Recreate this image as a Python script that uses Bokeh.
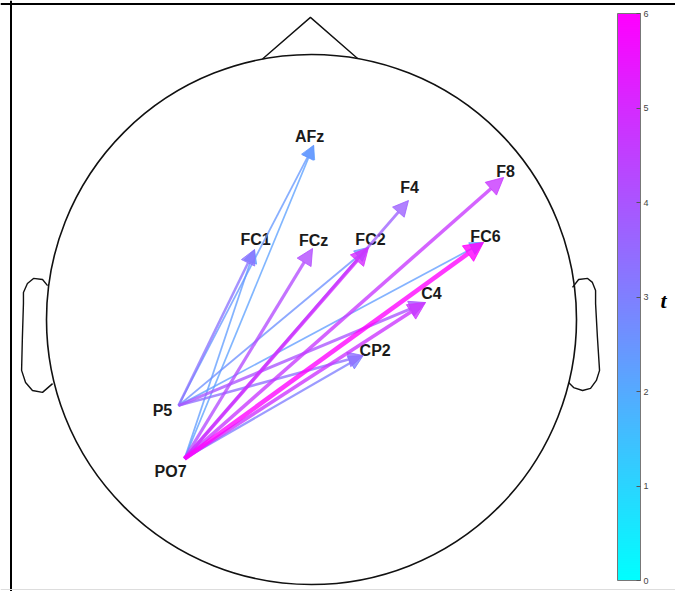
import numpy as np
from bokeh.plotting import figure
from bokeh.models import (Arrow, NormalHead, ColorBar, LinearColorMapper,
                          FixedTicker, Span, Label, Range1d, ColumnDataSource)
from bokeh.core.properties import value
from bokeh.embed import file_html
from bokeh.resources import INLINE

# ---------------- data ----------------
electrodes = ["AFz", "FC1", "FCz", "FC2", "F4", "F8", "FC6", "C4", "CP2", "P5", "PO7"]
elec_x = [0.008, -0.215, 0.004, 0.215, 0.366, 0.725, 0.649, 0.430, 0.195, -0.502, -0.479]
elec_y = [0.657, 0.264, 0.268, 0.272, 0.449, 0.536, 0.291, 0.064, -0.136, -0.325, -0.525]
label_dx = [-4, 1, 1, 2, 1, 2, 2, 6, 12, -16, -14]
label_dy = [9, 10, 8, 8, 13, 6, 6, 9, 5, -5, -13]

edge_source = ["PO7", "P5", "PO7", "P5", "P5", "PO7", "P5", "P5", "PO7", "P5", "PO7", "PO7", "PO7", "PO7", "PO7"]
edge_target = ["AFz", "FC6", "FC1", "AFz", "FC2", "CP2", "FC1", "CP2", "F4", "C4", "FCz", "F8", "C4", "FC2", "FC6"]
edge_t = [2.2, 2.3, 2.3, 2.4, 2.6, 3.0, 3.3, 3.4, 3.7, 4.0, 4.2, 4.7, 4.8, 5.0, 6.0]

t_ticks = [0, 1, 2, 3, 4, 5, 6]
t_low, t_high = 0, 6

# ---------------- layout ----------------
W, H = 675, 591
CX, CY, R = 311, 319, 265        # head centre / radius in page pixels
x0 = -CX / R
x1 = (W - CX) / R
y1 = CY / R
y0 = -(H - CY) / R

p = figure(width=W, height=H, output_backend="svg", toolbar_location=None,
           x_range=Range1d(x0, x1), y_range=Range1d(y0, y1),
           min_border=0, outline_line_color=None)
p.axis.visible = False
p.grid.visible = False
p.background_fill_color = "white"

# frame lines (left & top)
p.add_layout(Span(location=x0 + 10.5 / R, dimension="height", line_color="black", line_width=2))
p.add_layout(Span(location=y1 - 3.5 / R, dimension="width", line_color="black", line_width=2))
p.add_layout(Span(location=y0 + 2 / R, dimension="width", line_color="#dddddd", line_width=1))

# head outline
p.circle(x=[0], y=[0], radius=1, fill_color=None, line_color="#111111", line_width=1.6)
nose_x = [-0.185, -0.004, 0.174]
nose_y = [0.983, 1.140, 0.985]
p.line(nose_x, nose_y, line_color="#111111", line_width=1.4)
lear_x = [-0.996, -1.015, -1.049, -1.072, -1.087, -1.087, -1.091, -1.094, -1.079, -1.053, -1.015, -0.977]
lear_y = [0.128, 0.151, 0.155, 0.136, 0.102, 0.060, -0.068, -0.192, -0.238, -0.268, -0.275, -0.242]
rear_x = [0.985, 1.008, 1.042, 1.060, 1.072, 1.072, 1.079, 1.087, 1.075, 1.053, 1.023, 0.989, 0.970]
rear_y = [0.121, 0.151, 0.155, 0.140, 0.109, 0.060, -0.068, -0.192, -0.230, -0.260, -0.268, -0.257, -0.238]
p.line(lear_x, lear_y, line_color="#111111", line_width=1.4)
p.line(rear_x, rear_y, line_color="#111111", line_width=1.4)

# colormap (cool)
palette = []
for i in range(256):
    f = i / 255
    palette.append("#%02x%02x%02x" % (int(round(255 * f)), int(round(255 * (1 - f))), 255))
mapper = LinearColorMapper(palette=palette, low=t_low, high=t_high)

def tcolor(t):
    f = (t - t_low) / (t_high - t_low)
    return palette[int(round(f * 255))]

pos = {e: (x, y) for e, x, y in zip(electrodes, elec_x, elec_y)}

for s, tg, t in zip(edge_source, edge_target, edge_t):
    c = tcolor(t)
    xs, ys = pos[s]
    xe, ye = pos[tg]
    head = NormalHead(size=9.5 + 1.6 * t, fill_color=c, line_color=c,
                      fill_alpha=0.8, line_alpha=0.8, line_width=1)
    p.add_layout(Arrow(end=head, x_start=xs, y_start=ys, x_end=xe, y_end=ye,
                       line_color=c, line_width=0.75 * t, line_alpha=0.78))

src = ColumnDataSource(dict(x=elec_x, y=elec_y, name=electrodes,
                            dx=label_dx, dy=[-d for d in label_dy]))
p.text(x="x", y="y", text="name", x_offset="dx", y_offset="dy", source=src,
       text_font=value("Liberation Sans"), text_font_style="bold",
       text_font_size="16px", text_color="#1a1a1a",
       text_align="center", text_baseline="middle")

cb = ColorBar(color_mapper=mapper, ticker=FixedTicker(ticks=t_ticks),
              width=23, height=567, location=(617, 11), padding=0,
              bar_line_color="#777777", bar_line_width=1,
              major_tick_line_color="#555555", major_tick_in=4, major_tick_out=0,
              minor_tick_line_color=None, label_standoff=3,
              major_label_text_font="Liberation Sans",
              major_label_text_font_size="9px", major_label_text_color="#444444",
              background_fill_alpha=0, border_line_color=None)
p.add_layout(cb, "center")

p.add_layout(Label(x=(663 - CX) / R, y=(CY - 300) / R, text="t",
                   text_font="Liberation Serif", text_font_style="bold italic",
                   text_font_size="22px", text_color="black",
                   text_align="center", text_baseline="middle"))

open("out.html", "w").write(file_html(p, INLINE))
